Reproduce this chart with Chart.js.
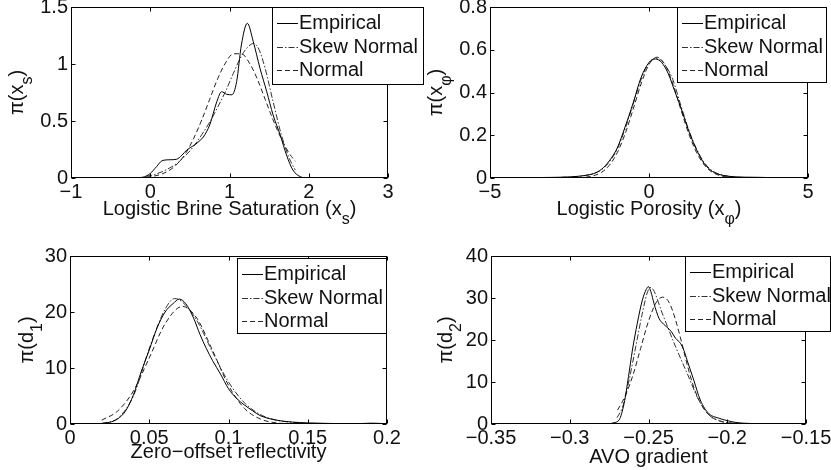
<!DOCTYPE html>
<html>
<head>
<meta charset="utf-8">
<script src="https://cdn.jsdelivr.net/npm/chart.js@4/dist/chart.umd.min.js"></script>
<style>
  body { margin: 0; background: #fff; }
  #wrap { position: relative; width: 831px; height: 470px; }
  #wrap canvas { position: absolute; left: 0; top: 0; }
</style>
</head>
<body>
<div id="wrap">
  <canvas id="brine" width="831" height="470"></canvas>
  <canvas id="poro" width="831" height="470"></canvas>
  <canvas id="refl" width="831" height="470"></canvas>
  <canvas id="avo" width="831" height="470"></canvas>
</div>
<script>
// legenda comum aos quatro painéis
const seriesNames = ['Empirical', 'Skew Normal', 'Normal'];

// painel 1: logistic brine saturation
const brineEmpX = [-0.3, -0.2, -0.1, 0, 0.08, 0.15, 0.25, 0.33, 0.4, 0.46, 0.56, 0.63, 0.67, 0.75, 0.84, 0.9, 0.965, 1.03, 1.09, 1.15, 1.225, 1.3, 1.385, 1.47, 1.55, 1.64, 1.72, 1.8, 1.9, 2.0, 2.1];
const brineEmp = [0, 0.002, 0.006, 0.04, 0.1, 0.152, 0.16, 0.164, 0.2, 0.245, 0.29, 0.33, 0.36, 0.465, 0.67, 0.757, 0.734, 0.73, 0.845, 1.167, 1.357, 1.196, 0.962, 0.757, 0.553, 0.377, 0.2, 0.07, 0.01, 0, 0];
const brineSkewX = [-0.05, 0.05, 0.15, 0.25, 0.35, 0.45, 0.55, 0.65, 0.75, 0.85, 0.95, 1.05, 1.15, 1.22, 1.3, 1.37, 1.45, 1.55, 1.65, 1.75, 1.83];
const brineSkew = [0.015, 0.03, 0.055, 0.09, 0.135, 0.2, 0.28, 0.38, 0.49, 0.62, 0.76, 0.92, 1.07, 1.14, 1.18, 1.13, 0.96, 0.67, 0.39, 0.18, 0.07];
const brineNormX = [-0.05, 0.05, 0.15, 0.25, 0.35, 0.45, 0.55, 0.65, 0.75, 0.85, 0.95, 1.05, 1.15, 1.25, 1.35, 1.45, 1.55, 1.65, 1.75, 1.83];
const brineNorm = [0.007, 0.017, 0.036, 0.071, 0.13, 0.22, 0.35, 0.51, 0.69, 0.87, 1.01, 1.09, 1.09, 1.01, 0.87, 0.69, 0.51, 0.35, 0.22, 0.146];

// painel 2: logistic porosity
const poroEmpX = [-4.5, -3.5, -3, -2.5, -2, -1.75, -1.5, -1.25, -1, -0.75, -0.5, -0.25, 0, 0.2, 0.4, 0.6, 0.8, 1, 1.25, 1.5, 1.75, 2, 2.25, 2.5, 3, 3.5, 4, 4.5];
const poroEmp = [0.001, 0.002, 0.003, 0.005, 0.012, 0.02, 0.04, 0.08, 0.14, 0.24, 0.35, 0.47, 0.54, 0.557, 0.54, 0.49, 0.41, 0.33, 0.22, 0.13, 0.065, 0.03, 0.015, 0.008, 0.004, 0.003, 0.001, 0];
const poroModelX = [-3.5, -3, -2.5, -2, -1.5, -1.25, -1, -0.75, -0.5, -0.25, 0, 0.25, 0.5, 0.75, 1, 1.25, 1.5, 1.75, 2, 2.5, 3, 3.5];
const poroSkew = [0.001, 0.002, 0.005, 0.012, 0.038, 0.075, 0.135, 0.23, 0.345, 0.46, 0.54, 0.56, 0.53, 0.46, 0.34, 0.225, 0.135, 0.07, 0.033, 0.008, 0.002, 0];
const poroNorm = [0, 0, 0.0003, 0.0035, 0.026, 0.059, 0.118, 0.207, 0.321, 0.44, 0.531, 0.565, 0.531, 0.44, 0.321, 0.207, 0.118, 0.059, 0.026, 0.0035, 0.0003, 0];

// painel 3: zero-offset reflectivity
const reflEmpX = [0.015, 0.02, 0.025, 0.03, 0.035, 0.04, 0.045, 0.05, 0.055, 0.06, 0.065, 0.069, 0.073, 0.078, 0.082, 0.086, 0.09, 0.095, 0.1, 0.105, 0.11, 0.115, 0.12, 0.13, 0.14, 0.15, 0.16, 0.18, 0.19, 0.2];
const reflEmp = [0, 0.1, 0.3, 0.9, 2.3, 5.2, 9.4, 13.2, 17.2, 20.0, 21.5, 22.3, 21.5, 18.9, 16.0, 13.5, 11.3, 8.9, 6.3, 4.6, 3.4, 2.4, 1.5, 0.7, 0.35, 0.2, 0.12, 0.05, 0.15, 0.05];
const reflSkewX = [0.02, 0.03, 0.04, 0.05, 0.06, 0.066, 0.07, 0.08, 0.09, 0.1, 0.11, 0.12, 0.13, 0.14, 0.15, 0.16, 0.18, 0.2];
const reflSkew = [0.1, 1.0, 5.0, 13.5, 20.5, 22.4, 22.0, 18.5, 12.8, 7.5, 3.8, 1.7, 0.7, 0.3, 0.1, 0.05, 0.01, 0];
const reflNormX = [0.02, 0.03, 0.04, 0.05, 0.06, 0.071, 0.08, 0.09, 0.1, 0.11, 0.12, 0.13, 0.14, 0.15, 0.16];
const reflNorm = [0.69, 2.3, 5.9, 11.8, 17.9, 21, 18.9, 13.1, 6.9, 2.8, 0.9, 0.21, 0.04, 0.01, 0];

// painel 4: AVO gradient
const avoEmpX = [-0.275, -0.272, -0.2686, -0.2655, -0.2627, -0.2602, -0.2571, -0.2539, -0.2515, -0.2501, -0.2485, -0.2465, -0.2434, -0.2405, -0.2381, -0.2355, -0.2328, -0.2297, -0.2275, -0.2255, -0.2213, -0.2171, -0.2118, -0.2055, -0.2, -0.195, -0.19, -0.18, -0.17, -0.16];
const avoEmp = [0, 0.3, 1.0, 4.9, 11.3, 17.6, 24, 29.5, 32, 32.7, 31.5, 28.7, 25.2, 23.8, 23.0, 22.0, 20.4, 19.2, 17.5, 15.2, 10.5, 5.7, 2.5, 1.4, 0.8, 0.4, 0.2, 0.1, 0.1, 0];
const avoSkewX = [-0.27, -0.2665, -0.2623, -0.2581, -0.2539, -0.251, -0.249, -0.247, -0.2413, -0.2328, -0.2255, -0.2181, -0.2118, -0.205, -0.2, -0.19, -0.18, -0.17];
const avoSkew = [1.5, 4.0, 10.5, 18.4, 26.4, 31, 32.5, 32, 26.4, 18.4, 12.1, 5.7, 2.2, 0.8, 0.35, 0.1, 0.02, 0];
const avoNormX = [-0.2697, -0.265, -0.26, -0.255, -0.25, -0.245, -0.241, -0.237, -0.233, -0.229, -0.225, -0.221, -0.217, -0.213, -0.209, -0.205, -0.2, -0.195, -0.19];
const avoNorm = [3.3, 6.5, 11.5, 18, 24.5, 29, 30.2, 29, 25, 19.5, 13.5, 8.5, 5, 2.7, 1.4, 0.7, 0.3, 0.1, 0.03];

const FONT = '"Liberation Sans", Arial, Helvetica, sans-serif';
Chart.defaults.font.family = FONT;
Chart.defaults.font.size = 20;
Chart.defaults.color = '#111';

// estilo de linha de cada série (sólida, traço-ponto, tracejada)
const lineStyles = [
  { color: '#000', dash: [] },
  { color: '#333', dash: [6, 2, 1.5, 2] },
  { color: '#222', dash: [5, 3] }
];

const pts = (xs, ys) => xs.map((x, i) => ({ x: x, y: ys[i] }));
const fmt = v => String(+v.toFixed(6)).replace('-', '\u2212');

// texto com subscrito: partes = [[texto, ehSub], ...]
function richText(ctx, parts, x, y, rotate) {
  ctx.save();
  ctx.translate(x, y);
  if (rotate) ctx.rotate(-Math.PI / 2);
  ctx.fillStyle = '#111';
  ctx.textBaseline = 'alphabetic';
  ctx.textAlign = 'left';
  let w = 0;
  parts.forEach(p => { ctx.font = (p[1] ? '16px ' : '20px ') + FONT; w += ctx.measureText(p[0]).width; });
  let cx = -w / 2;
  parts.forEach(p => {
    ctx.font = (p[1] ? '16px ' : '20px ') + FONT;
    ctx.fillText(p[0], cx, p[1] ? 9 : 0);
    cx += ctx.measureText(p[0]).width;
  });
  ctx.restore();
}

// moldura estilo MATLAB, ticks internos, legenda e rótulos dos eixos
const matlabFrame = {
  id: 'matlabFrame',
  afterDraw(chart, args, o) {
    const { ctx, chartArea: a, scales } = chart;
    const L = Math.round(a.left) + 0.5, R = Math.round(a.right) - 0.5;
    const T = Math.round(a.top) + 0.5, B = Math.round(a.bottom) - 0.5;
    ctx.save();
    ctx.strokeStyle = '#000';
    ctx.lineWidth = 1;
    ctx.setLineDash([]);
    ctx.beginPath();
    scales.x.ticks.forEach(t => {
      const px = Math.round(scales.x.getPixelForValue(t.value)) + 0.5;
      ctx.moveTo(px, B); ctx.lineTo(px, B - 4);
      ctx.moveTo(px, T); ctx.lineTo(px, T + 4);
    });
    scales.y.ticks.forEach(t => {
      const py = Math.round(scales.y.getPixelForValue(t.value)) + 0.5;
      ctx.moveTo(L, py); ctx.lineTo(L + 4, py);
      ctx.moveTo(R, py); ctx.lineTo(R - 4, py);
    });
    ctx.stroke();
    ctx.strokeRect(L, T, R - L, B - T);

    // legenda
    const [lx, ly, rx, by] = o.legend;
    ctx.fillStyle = '#fff';
    ctx.fillRect(lx, ly, rx - lx, by - ly);
    ctx.strokeRect(lx + 0.5, ly + 0.5, rx - lx, by - ly);
    ctx.font = '20px ' + FONT;
    ctx.textBaseline = 'middle';
    ctx.textAlign = 'left';
    chart.data.datasets.forEach((ds, i) => {
      const yy = Math.round(ly + 16 + i * 23.5) + 0.5;
      ctx.strokeStyle = ds.borderColor;
      ctx.setLineDash(ds.borderDash);
      ctx.beginPath();
      ctx.moveTo(lx + 5, yy); ctx.lineTo(lx + 26, yy);
      ctx.stroke();
      ctx.fillStyle = '#111';
      ctx.fillText(ds.label, lx + 27, yy);
    });
    ctx.restore();

    richText(ctx, o.xTitle, (a.left + a.right) / 2, o.xTitleY, false);
    richText(ctx, o.yTitle, o.yTitleX, (a.top + a.bottom) / 2, true);
  }
};

function panel(id, box, xr, yr, series, opts) {
  const datasets = series.map((s, i) => ({
    label: seriesNames[i],
    data: pts(s[0], s[1]),
    borderColor: lineStyles[i].color,
    borderDash: lineStyles[i].dash,
    borderWidth: 1,
    pointRadius: 0,
    cubicInterpolationMode: 'monotone',
    fill: false
  }));
  const axisX = {
    type: 'linear', min: xr[0], max: xr[1],
    grid: { display: false, drawTicks: false }, border: { display: false },
    ticks: { stepSize: xr[2], autoSkip: false, maxRotation: 0, padding: 2, callback: fmt },
    afterFit: s => { s.height = 30; s.paddingLeft = 0; s.paddingRight = 0; }
  };
  const axisY = {
    type: 'linear', min: yr[0], max: yr[1],
    grid: { display: false, drawTicks: false }, border: { display: false },
    ticks: { stepSize: yr[2], autoSkip: false, padding: 3, callback: fmt },
    afterFit: s => { s.width = 40; s.paddingTop = 0; s.paddingBottom = 0; }
  };
  return new Chart(document.getElementById(id), {
    type: 'line',
    data: { datasets: datasets },
    options: {
      responsive: false,
      animation: false,
      events: [],
      layout: { padding: { left: box[0] - 40, top: box[1], right: 831 - box[2], bottom: 470 - box[3] - 30 } },
      scales: { x: axisX, y: axisY },
      plugins: { legend: { display: false }, tooltip: { enabled: false }, matlabFrame: opts }
    },
    plugins: [matlabFrame]
  });
}

panel('brine', [71, 7, 388, 178], [-1, 3, 1], [0, 1.5, 0.5],
  [[brineEmpX, brineEmp], [brineSkewX, brineSkew], [brineNormX, brineNorm]],
  { legend: [272, 7, 423, 84],
    xTitle: [['Logistic Brine Saturation (x', false], ['s', true], [')', false]], xTitleY: 215,
    yTitle: [['\u03c0(x', false], ['s', true], [')', false]], yTitleX: 23 });

panel('poro', [490, 7, 808, 178], [-5, 5, 5], [0, 0.8, 0.2],
  [[poroEmpX, poroEmp], [poroModelX, poroSkew], [poroModelX, poroNorm]],
  { legend: [677, 7, 826, 82],
    xTitle: [['Logistic Porosity (x', false], ['\u03c6', true], [')', false]], xTitleY: 215,
    yTitle: [['\u03c0(x', false], ['\u03c6', true], [')', false]], yTitleX: 442 });

panel('refl', [70, 256, 387, 424], [0, 0.2, 0.05], [0, 30, 10],
  [[reflEmpX, reflEmp], [reflSkewX, reflSkew], [reflNormX, reflNorm]],
  { legend: [237, 258, 386, 333],
    xTitle: [['Zero\u2212offset reflectivity', false]], xTitleY: 458,
    yTitle: [['\u03c0(d', false], ['1', true], [')', false]], yTitleX: 33 });

panel('avo', [491, 256, 806, 424], [-0.35, -0.15, 0.05], [0, 40, 10],
  [[avoEmpX, avoEmp], [avoSkewX, avoSkew], [avoNormX, avoNorm]],
  { legend: [685, 256, 830, 331],
    xTitle: [['AVO gradient', false]], xTitleY: 463,
    yTitle: [['\u03c0(d', false], ['2', true], [')', false]], yTitleX: 452 });
</script>
</body>
</html>
